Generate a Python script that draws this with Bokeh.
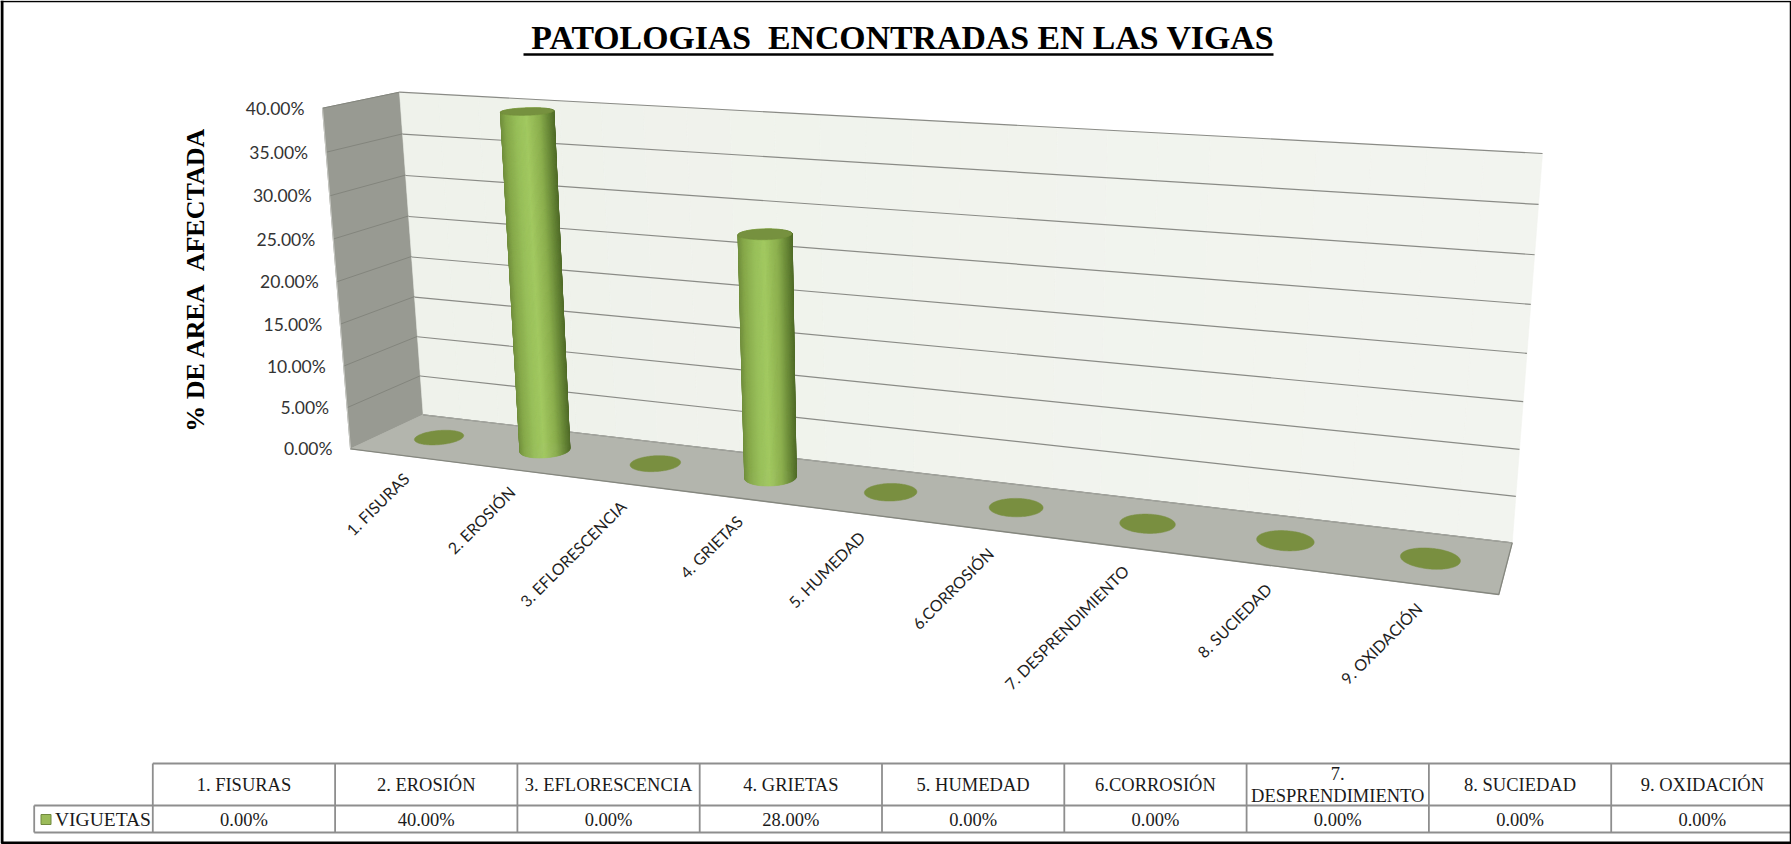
import numpy as np
from bokeh.plotting import figure
from bokeh.models import Range1d, ColumnDataSource
from bokeh.core.properties import value
from bokeh.embed import file_html
from bokeh.resources import INLINE

# ---------- data ----------
categories = ["1. FISURAS", "2. EROSIÓN", "3. EFLORESCENCIA", "4. GRIETAS", "5. HUMEDAD",
              "6.CORROSIÓN", "7. DESPRENDIMIENTO", "8. SUCIEDAD", "9. OXIDACIÓN"]
viguetas = [0.0, 40.0, 0.0, 28.0, 0.0, 0.0, 0.0, 0.0, 0.0]
y_ticks = [0, 5, 10, 15, 20, 25, 30, 35, 40]
series_name = "VIGUETAS"
title_text = "\u00a0PATOLOGIAS\u00a0\u00a0ENCONTRADAS EN LAS VIGAS"
ylabel_text = "% DE AREA\u00a0\u00a0AFECTADA"
y_max = 40.0

# ---------- 3D box layout (screen pixels of the window) ----------
FLOOR = [(350, 448.3), (1498.3, 594), (1511.7, 542.3), (422.7, 414.3)]   # u,w: 00,10,11,01
BACK = [(422.7, 414.3), (1511.7, 542.3), (1542, 153), (399, 91.7)]       # u,v: 00,10,11,01
SIDE = [(350, 448.3), (422.7, 414.3), (399, 91.7), (322, 107.7)]         # d,v: 00,10,11,01


def homography(q):
    (x0, y0), (x1, y1), (x2, y2), (x3, y3) = q
    dx1, dy1 = x1 - x2, y1 - y2
    dx2, dy2 = x3 - x2, y3 - y2
    sx, sy = x0 - x1 + x2 - x3, y0 - y1 + y2 - y3
    det = dx1 * dy2 - dx2 * dy1
    g = (sx * dy2 - dx2 * sy) / det
    h = (dx1 * sy - sx * dy1) / det
    a, b, c = x1 - x0 + g * x1, x3 - x0 + h * x3, x0
    d, e, f = y1 - y0 + g * y1, y3 - y0 + h * y3, y0

    def proj(u, v):
        u, v = np.asarray(u, float), np.asarray(v, float)
        w = g * u + h * v + 1
        return (a * u + b * v + c) / w, (d * u + e * v + f) / w
    return proj


floor = homography(FLOOR)
back = homography(BACK)
side = homography(SIDE)

W, H = 1791, 844
p = figure(width=W, height=H, x_range=Range1d(0, W), y_range=Range1d(H, 0),
           output_backend="svg", toolbar_location=None, min_border=0)
p.axis.visible = False
p.grid.visible = False
p.outline_line_color = None
p.background_fill_color = "white"


def quad(q, fill, line=None):
    p.patch([c[0] for c in q], [c[1] for c in q], fill_color=fill,
            line_color=line if line else fill, line_width=1)


# walls
quad(SIDE, "#989a92")
# back wall: faint gradient, slightly lighter towards the right
N_STRIPS = 24
for n in range(N_STRIPS):
    a, b = n / N_STRIPS, (n + 1) / N_STRIPS
    qx, qy = back([a, b, b, a], [0, 0, 1, 1])
    t = a
    col = "#%02x%02x%02x" % (int(0xef + 4 * t), int(0xf2 + 3 * t), int(0xeb + 5 * t))
    p.patch(list(qx), list(qy), fill_color=col, line_color=col, line_width=0.6)
quad(FLOOR, "#b3b5ad")

GRID = "#8a8b86"
for t in y_ticks:
    v = t / y_max
    bx, by = back([0, 1], [v, v])
    p.line(list(bx), list(by), line_color=GRID, line_width=1.2)
    sx, sy = side([0, 1], [v, v])
    if t > 0:
        p.line(list(sx), list(sy), line_color="#83857d", line_width=1)
p.line([c[0] for c in SIDE[:1] + SIDE[3:]], [c[1] for c in SIDE[:1] + SIDE[3:]],
       line_color="#c8c9c4", line_width=1)
p.line([FLOOR[0][0], FLOOR[1][0], FLOOR[2][0]], [FLOOR[0][1], FLOOR[1][1], FLOOR[2][1]],
       line_color="#85877f", line_width=1.3)
p.line([FLOOR[3][0], FLOOR[2][0]], [FLOOR[3][1], FLOOR[2][1]], line_color="#a5a7a0", line_width=1)

# y tick labels
tx, ty = side(np.zeros(len(y_ticks)), np.array(y_ticks) / y_max)
p.text(list(tx - 18), list(ty), text=[f"{t:.2f}%" for t in y_ticks], text_font=value("Lato"),
       text_font_size="17.5px", text_color="#333333", text_align="right", text_baseline="middle")

# columns
RU, RV = 0.022, 0.20
th = np.linspace(0, 2 * np.pi, 145)
STOPS_POS = [0.0, 0.1, 0.3, 0.48, 0.72, 0.9, 1.0]
STOPS_RGB = np.array([[0x72, 0x90, 0x3e], [0x86, 0xa8, 0x4a], [0x98, 0xbf, 0x5a], [0xa2, 0xc9, 0x61],
                      [0x8c, 0xaf, 0x4e], [0x66, 0x85, 0x36], [0x52, 0x6d, 0x2a]], float)


def shade(f):
    c = [np.interp(f, STOPS_POS, STOPS_RGB[:, k]) for k in range(3)]
    return "#%02x%02x%02x" % tuple(int(round(x)) for x in c)


for i, val in enumerate(viguetas):
    uc = (i + 0.5) / len(viguetas)
    uu = uc + RU * np.cos(th)
    vv = 0.5 + RV * np.sin(th)
    dx = 4.5 * np.sin(np.pi * uc)
    bx, by = floor(uu, vv)
    bx = bx + dx
    if val <= 0:
        p.patch(list(bx), list(by), fill_color="#798f40", line_color="#798f40", line_width=0.5)
        continue
    wx0, wy0 = back(uc, 0.0)
    wx1, wy1 = back(uc, val / y_max)
    cx, cy = floor(uc, 0.5)
    cx = cx + dx
    k = 1.02
    frac = val / y_max
    sx_top = 1 + 0.07 * frac       # the top looks slightly wider
    sy_top = 1 - 0.5 * frac        # and flatter, being nearer the eye level
    topx = cx + (wx1 - wx0) * k + (bx - cx) * sx_top
    topy = cy + (wy1 - wy0) * k + (by - cy) * sy_top
    xs, ys, cols, order = [], [], [], []
    for j in range(len(th) - 1):
        f = (0.5 * (bx[j] + bx[j + 1]) - bx.min()) / (bx.max() - bx.min())
        xs.append([bx[j], bx[j + 1], topx[j + 1], topx[j]])
        ys.append([by[j], by[j + 1], topy[j + 1], topy[j]])
        cols.append(shade(f))
        order.append(by[j])
    idx = np.argsort(order)
    src = ColumnDataSource(dict(xs=[xs[n] for n in idx], ys=[ys[n] for n in idx], c=[cols[n] for n in idx]))
    p.patches("xs", "ys", source=src, fill_color="c", line_color="c", line_width=0.6)
    p.patch(list(topx), list(topy), fill_color="#76913f", line_color="#76913f", line_width=0.5)

# category labels
for i, c in enumerate(categories):
    u = (i + 0.5) / len(categories)
    fx, fy = floor(u, 0.0)
    p.text([float(fx) + 4.2 - 5.4 * u], [float(fy) + 20 + 1 * u], text=[c], text_font=value("Lato"),
           text_font_size="16px", text_color="#1f1f1f", text_align="right", text_baseline="middle",
           angle=np.pi / 4)

# title and axis title
p.text([898], [37], text=[title_text], text_font=value("Liberation Serif"), text_font_style="bold",
       text_font_size="33.8px", text_color="black", text_align="center", text_baseline="middle")
p.line([523, 1273], [54, 54], line_color="black", line_width=2.5)
p.text([195], [279], text=[ylabel_text], text_font=value("Liberation Serif"), text_font_style="bold",
       text_font_size="26px", text_color="black", text_align="center", text_baseline="middle",
       angle=np.pi / 2)

# data table
T_LEFT, T_X0, T_DX = 33.7, 152.3, 182.3
T_Y0, T_Y1, T_Y2 = 763, 805, 832
T_RIGHT = W
TAB = "#8e8e8e"
p.line([T_X0, T_RIGHT], [T_Y0, T_Y0], line_color=TAB, line_width=1.8)
p.line([T_LEFT, T_RIGHT], [T_Y1, T_Y1], line_color=TAB, line_width=1.8)
p.line([T_LEFT, T_RIGHT], [T_Y2, T_Y2], line_color=TAB, line_width=1.8)
p.line([T_LEFT, T_LEFT], [T_Y1, T_Y2], line_color=TAB, line_width=1.8)
tf = dict(text_font=value("Liberation Serif"), text_font_size="18.5px", text_color="#1a1a1a",
          text_align="center", text_baseline="middle")
for i in range(len(categories)):
    xl = T_X0 + i * T_DX
    p.line([xl, xl], [T_Y0, T_Y2], line_color=TAB, line_width=1.8)
    xm = xl + T_DX / 2
    name = categories[i]
    if name.startswith("7."):
        p.text([xm], [773], text=["7."], **tf)
        p.text([xm], [795], text=[name[3:]], **tf)
    else:
        p.text([xm], [784], text=[name], **tf)
    p.text([xm], [819], text=[f"{viguetas[i]:.2f}%"], **tf)

p.quad(left=[40.5], right=[50.5], top=[814], bottom=[824], fill_color="#9bbb59", line_color="#71893f", line_width=1)
p.text([54.5], [819], text=[series_name], text_font=value("Liberation Serif"), text_font_size="19.5px",
       text_color="#1a1a1a", text_align="left", text_baseline="middle")

# frame
p.line([0, W - 1, W - 1], [1, 1, H], line_color="black", line_width=1.5)
p.line([1.5, 1.5, W], [0, 842.5, 842.5], line_color="black", line_width=3)

open("out.html", "w").write(file_html(p, INLINE))
